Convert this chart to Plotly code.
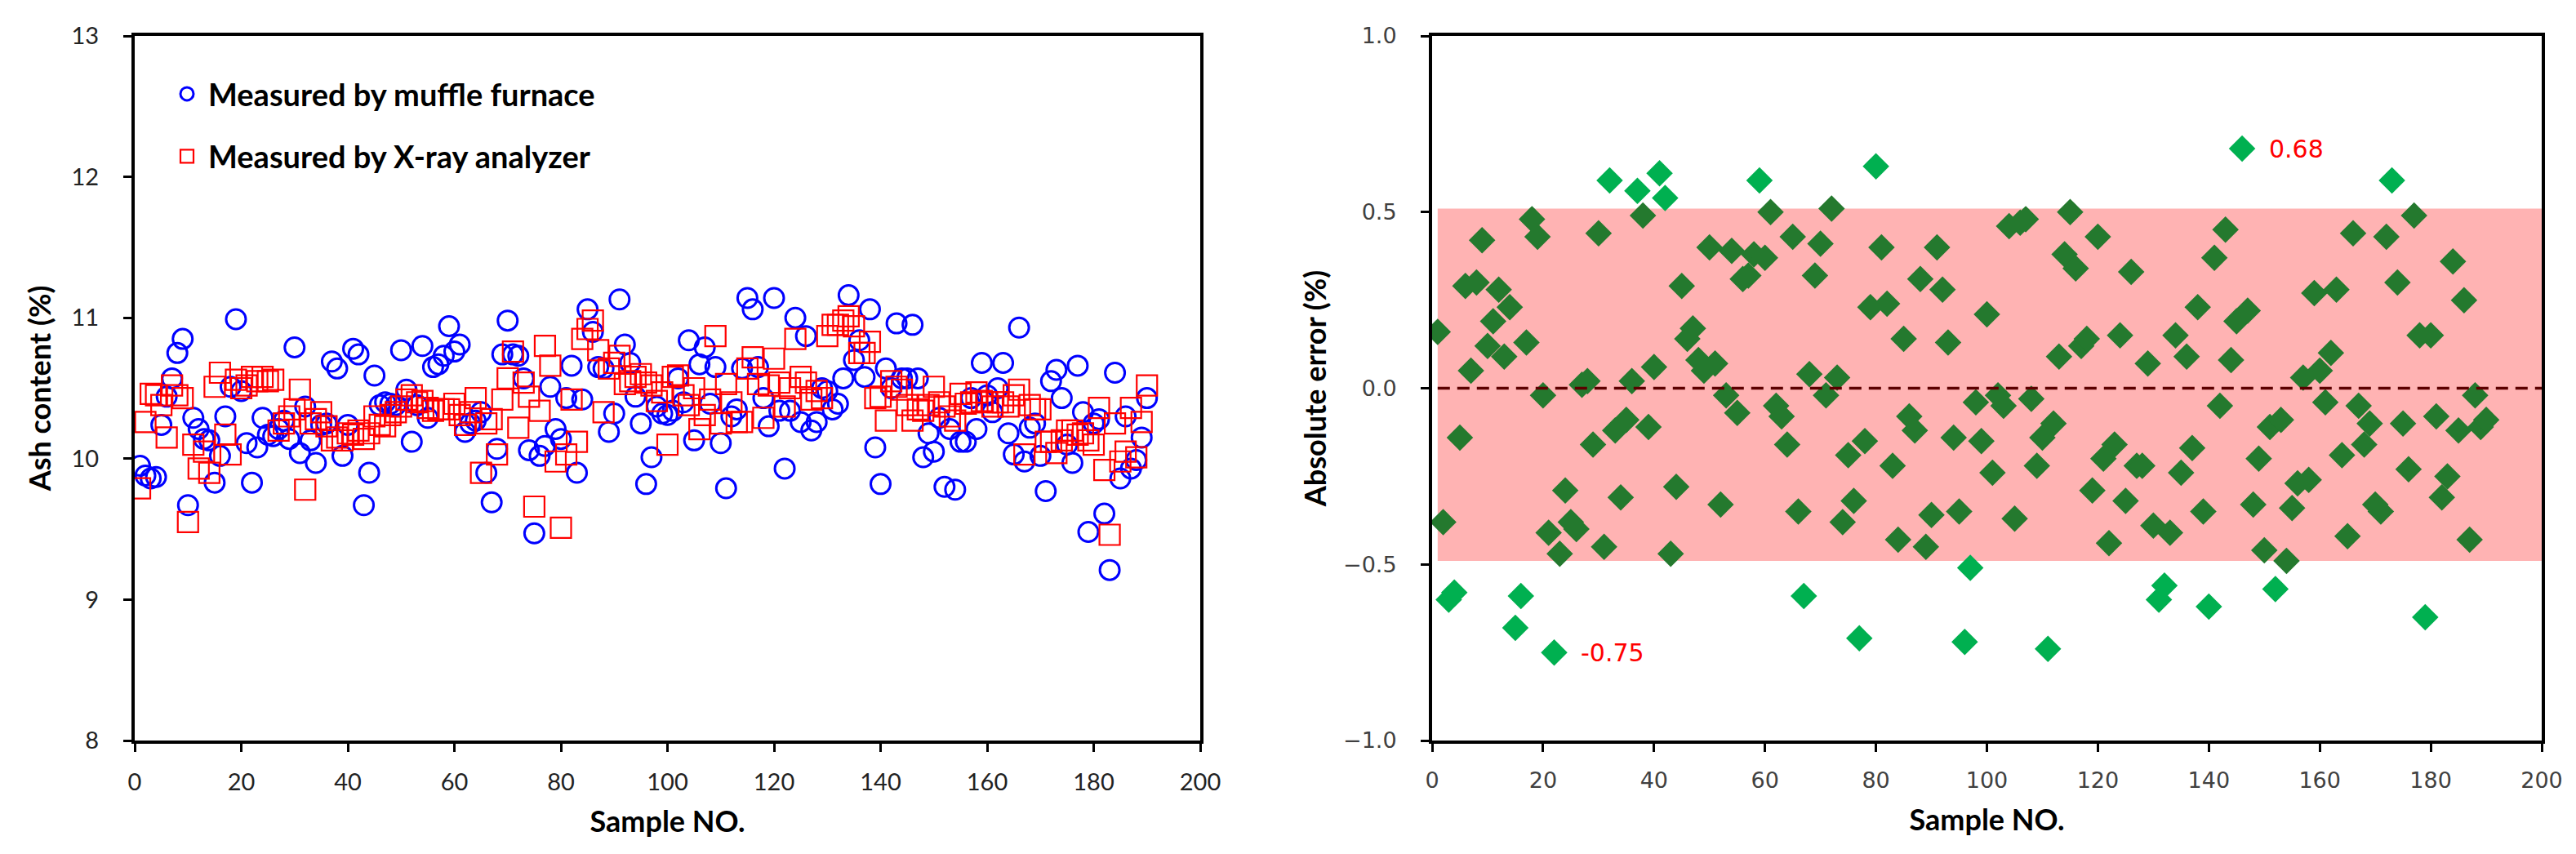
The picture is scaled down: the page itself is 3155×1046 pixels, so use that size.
import plotly.graph_objects as go

# sample index 1..190
sample_no = list(range(1, 191))

# ash content measured by muffle furnace (%)
muffle = [
    9.95, 9.88, 9.86, 9.87, 10.24, 10.44, 10.57, 10.75, 10.85, 9.67,
    10.29, 10.21, 10.14, 10.13, 9.83, 10.02, 10.30, 10.51, 10.99, 10.48,
    10.11, 9.83, 10.08, 10.29, 10.17, 10.16, 10.21, 10.27, 10.14, 10.79,
    10.04, 10.37, 10.13, 9.97, 10.24, 10.25, 10.69, 10.64, 10.02, 10.24,
    10.78, 10.74, 9.67, 9.90, 10.59, 10.38, 10.40, 10.39, 10.38, 10.77,
    10.49, 10.12, 10.38, 10.80, 10.29, 10.65, 10.67, 10.73, 10.94, 10.76,
    10.81, 10.19, 10.25, 10.27, 10.33, 9.90, 9.69, 10.07, 10.74, 10.98,
    10.74, 10.73, 10.57, 10.06, 9.47, 10.02, 10.09, 10.51, 10.21, 10.14,
    10.43, 10.66, 9.90, 10.42, 11.06, 10.90, 10.65, 10.64, 10.19, 10.32,
    11.13, 10.81, 10.68, 10.44, 10.25, 9.82, 10.01, 10.37, 10.32, 10.31,
    10.34, 10.57, 10.40, 10.84, 10.13, 10.67, 10.79, 10.39, 10.65, 10.11,
    9.79, 10.30, 10.35, 10.64, 11.14, 11.06, 10.65, 10.43, 10.23, 11.14,
    10.34, 9.93, 10.34, 11.00, 10.26, 10.87, 10.20, 10.26, 10.50, 10.48,
    10.35, 10.39, 10.57, 11.16, 10.70, 10.84, 10.58, 11.06, 10.08, 9.82,
    10.64, 10.50, 10.96, 10.57, 10.57, 10.95, 10.57, 10.01, 10.18, 10.05,
    10.29, 9.80, 10.21, 9.78, 10.12, 10.12, 10.43, 10.21, 10.68, 10.45,
    10.33, 10.50, 10.68, 10.18, 10.03, 10.93, 9.98, 10.22, 10.25, 10.02,
    9.77, 10.55, 10.63, 10.43, 10.10, 9.97, 10.66, 10.33, 9.48, 10.25,
    10.28, 9.61, 9.21, 10.61, 9.86, 10.30, 9.93, 9.99, 10.15, 10.43,
]

# ash content measured by X-ray analyzer (%)
xray = [
    9.79, 10.26, 10.46, 10.45, 10.38, 10.15, 10.52, 10.45, 10.43, 9.55,
    10.10, 9.93, 10.05, 9.90, 10.51, 10.61, 10.17, 10.03, 10.56, 10.50,
    10.52, 10.58, 10.55, 10.58, 10.55, 10.56, 10.20, 10.25, 10.30, 10.35,
    10.49, 9.78, 10.25, 10.28, 10.33, 10.23, 10.13, 10.15, 10.13, 10.18,
    10.17, 10.20, 10.14, 10.18, 10.30, 10.24, 10.23, 10.31, 10.33, 10.37,
    10.42, 10.45, 10.40, 10.41, 10.36, 10.34, 10.35, 10.35, 10.35, 10.39,
    10.31, 10.24, 10.33, 10.43, 9.90, 10.25, 10.28, 10.03, 10.42, 10.57,
    10.76, 10.22, 10.54, 10.44, 9.66, 10.34, 10.80, 10.66, 9.98, 9.51,
    10.03, 10.42, 10.12, 10.85, 10.92, 10.98, 10.77, 10.33, 10.64, 10.68,
    10.73, 10.53, 10.55, 10.58, 10.60, 10.54, 10.52, 10.41, 10.47, 10.10,
    10.58, 10.59, 10.45, 10.38, 10.50, 10.21, 10.31, 10.42, 10.87, 10.25,
    10.53, 10.40, 10.26, 10.26, 10.64, 10.72, 10.53, 10.29, 10.52, 10.71,
    10.54, 10.37, 10.50, 10.85, 10.58, 10.54, 10.42, 10.48, 10.43, 10.87,
    10.95, 10.95, 10.98, 11.01, 10.94, 10.75, 10.75, 10.83, 10.43, 10.44,
    10.27, 10.55, 10.51, 10.49, 10.38, 10.27, 10.35, 10.34, 10.38, 10.51,
    10.40, 10.37, 10.30, 10.27, 10.46, 10.39, 10.40, 10.47, 10.41, 10.40,
    10.37, 10.40, 10.40, 10.37, 10.45, 10.49, 10.03, 10.38, 10.35, 10.35,
    10.12, 10.12, 10.04, 10.13, 10.20, 10.20, 10.17, 10.18, 10.13, 10.10,
    10.36, 9.92, 9.46, 10.25, 9.98, 10.05, 10.36, 10.01, 10.26, 10.52,
]

# absolute error (%)
abs_error = [
    0.16, -0.38, -0.60, -0.58, -0.14, 0.29, 0.05, 0.30, 0.42, 0.12,
    0.19, 0.28, 0.09, 0.23, -0.68, -0.59, 0.13, 0.48, 0.43, -0.02,
    -0.41, -0.75, -0.47, -0.29, -0.38, -0.40, 0.01, 0.02, -0.16, 0.44,
    -0.45, 0.59, -0.12, -0.31, -0.09, 0.02, 0.56, 0.49, -0.11, 0.06,
    0.61, 0.54, -0.47, -0.28, 0.29, 0.14, 0.17, 0.08, 0.05, 0.40,
    0.07, -0.33, -0.02, 0.39, -0.07, 0.31, 0.32, 0.38, 0.59, 0.37,
    0.50, -0.05, -0.08, -0.16, 0.43, -0.35, -0.59, 0.04, 0.32, 0.41,
    -0.02, 0.51, 0.03, -0.38, -0.19, -0.32, -0.71, -0.15, 0.23, 0.63,
    0.40, 0.24, -0.22, -0.43, 0.14, -0.08, -0.12, 0.31, -0.45, -0.36,
    0.40, 0.28, 0.13, -0.14, -0.35, -0.72, -0.51, -0.04, -0.15, 0.21,
    -0.24, -0.02, -0.05, 0.46, -0.37, 0.47, 0.48, -0.03, -0.22, -0.14,
    -0.74, -0.10, 0.09, 0.38, 0.50, 0.34, 0.12, 0.14, -0.29, 0.43,
    -0.20, -0.44, -0.16, 0.15, -0.32, 0.33, -0.22, -0.22, 0.07, -0.39,
    -0.60, -0.56, -0.41, 0.15, -0.24, 0.09, -0.17, 0.23, -0.35, -0.62,
    0.37, -0.05, 0.45, 0.08, 0.19, 0.68, 0.22, -0.33, -0.20, -0.46,
    -0.11, -0.57, -0.09, -0.49, -0.34, -0.27, 0.03, -0.26, 0.27, 0.05,
    -0.04, 0.10, 0.28, -0.19, -0.42, 0.44, -0.05, -0.16, -0.10, -0.33,
    -0.35, 0.43, 0.59, 0.30, -0.10, -0.23, 0.49, 0.15, -0.65, 0.15,
    -0.08, -0.31, -0.25, 0.36, -0.12, 0.25, -0.43, -0.02, -0.11, -0.09,
]

# error band limits (%)
band_low = -0.49
band_high = 0.51

W, H = 3155, 1046
# plot area edges in pixels (left panel starts at L, right panel ends at W-R)
L, R, T, B = 157, 50, 36, 147
PW = W - L - R

calibri_like = "Lato"

in_band = [band_low <= v <= band_high for v in abs_error]
err_colors = ["#24792e" if ok else "#00b050" for ok in in_band]

fig = go.Figure()

fig.add_trace(go.Scatter(
    x=sample_no, y=muffle,
    mode="markers",
    name="Measured by muffle furnace",
    legendgroup="a",
    marker=dict(symbol="circle-open", size=24, color="#0000ff", line=dict(width=3, color="#0000ff")),
    xaxis="x", yaxis="y",
))
fig.add_trace(go.Scatter(
    x=sample_no, y=xray,
    mode="markers",
    name="Measured by X-ray analyzer",
    legendgroup="b",
    marker=dict(symbol="square-open", size=25, color="#ff0000", line=dict(width=2.2, color="#ff1a1a")),
    xaxis="x", yaxis="y",
))
fig.add_trace(go.Scatter(
    x=sample_no, y=abs_error,
    mode="markers",
    showlegend=False,
    marker=dict(symbol="diamond", size=25, color=err_colors, line=dict(width=0)),
    xaxis="x2", yaxis="y2",
))

# red band and dashed zero line on the error panel
fig.add_shape(type="rect", xref="x2", yref="y2",
              x0=1, x1=200, y0=band_low, y1=band_high,
              fillcolor="#ffb3b3", line=dict(width=0), layer="below")
fig.add_shape(type="line", xref="x2", yref="y2",
              x0=1, x1=200, y0=0, y1=0,
              line=dict(color="#5c0000", width=3.5, dash="15px,9px"), layer="above")

# label the extreme errors
i_max = abs_error.index(max(abs_error))
i_min = abs_error.index(min(abs_error))
for i in (i_max, i_min):
    fig.add_annotation(
        x=sample_no[i] + 4.5, y=abs_error[i], xref="x2", yref="y2",
        text=f"{abs_error[i]:.2f}", showarrow=False, xanchor="left",
        font=dict(family="DejaVu Sans", size=30, color="#ff0000"),
    )

axis_common = dict(
    showline=True, linecolor="black", linewidth=4, mirror=True,
    ticks="outside", ticklen=10, tickwidth=3, tickcolor="black",
    showgrid=False, zeroline=False, automargin=False,
)
title_font = dict(family=calibri_like, size=36, color="black", weight="bold")

fig.update_layout(
    width=W, height=H,
    margin=dict(l=L, r=R, t=T, b=B, autoexpand=False),
    paper_bgcolor="white", plot_bgcolor="white",
    showlegend=True,
    legend=dict(
        x=(195 - L) / PW, y=0.954, xanchor="left", yanchor="top",
        bgcolor="rgba(0,0,0,0)",
        font=dict(family=calibri_like, size=38, color="black", weight="bold"),
        tracegroupgap=24, itemwidth=42,
    ),
    xaxis=dict(
        domain=[0, (1462 - L) / PW], range=[0, 200], dtick=20, anchor="y",
        tickfont=dict(family=calibri_like, size=29, color="#222222"),
        ticklabelstandoff=12,
        title=dict(text="Sample NO.", standoff=22, font=title_font),
        **axis_common,
    ),
    yaxis=dict(
        domain=[0, 1], range=[8, 13], dtick=1, anchor="x",
        tickfont=dict(family=calibri_like, size=29, color="#222222"),
        ticklabelstandoff=24,
        title=dict(text="Ash content (%)", standoff=15, font=title_font),
        **axis_common,
    ),
    xaxis2=dict(
        domain=[(1746 - L) / PW, 1], range=[0, 200], dtick=20, anchor="y2",
        tickfont=dict(family="DejaVu Sans", size=27, color="#404040"),
        ticklabelstandoff=12,
        title=dict(text="Sample NO.", standoff=22, font=title_font),
        **axis_common,
    ),
    yaxis2=dict(
        domain=[0, 1], range=[-1, 1], dtick=0.5, tickformat=".1f", anchor="x2",
        tickfont=dict(family="DejaVu Sans", size=27, color="#404040"),
        ticklabelstandoff=24,
        title=dict(text="Absolute error (%)", standoff=10, font=title_font),
        **axis_common,
    ),
)

fig.write_html("out.html")
